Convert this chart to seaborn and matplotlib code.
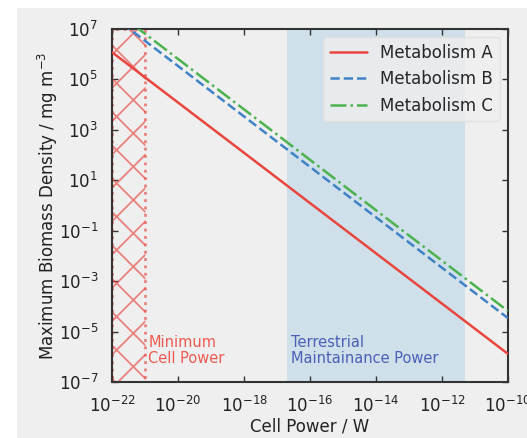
import numpy as np
import pandas as pd
import seaborn as sns
import matplotlib.pyplot as plt
from matplotlib.patches import Rectangle

# values (endpoints of each power law line)
cell_power = [1e-22, 1e-10]
metab_a = [1.2e6, 1.3e-6]
metab_b = [3.4e7, 3.4e-5]
metab_c = [6.5e7, 6.5e-5]
names = ["Metabolism A", "Metabolism B", "Metabolism C"]

min_power = [1e-22, 1e-21]
terr_power = [2e-17, 5e-12]

df = pd.DataFrame({
    "power": cell_power * 3,
    "density": metab_a + metab_b + metab_c,
    "metabolism": [n for n in names for _ in cell_power],
})

sns.set_theme(style="ticks")
plt.rcParams["font.family"] = ["DejaVu Sans"]
plt.rcParams["hatch.linewidth"] = 1.3

bg = "#efefef"
fig = plt.figure(figsize=(5.27, 4.38), dpi=100, facecolor="white")
fig.patches.append(Rectangle((17 / 527, 0), 1, 1 - 8 / 438, transform=fig.transFigure,
                             facecolor=bg, edgecolor="none", zorder=-10))
ax = fig.add_axes([112 / 527, 1 - 382 / 438, 396 / 527, 353 / 438])
ax.set_facecolor(bg)

red = "#e8463f"
blue = "#3f82c6"
green = "#4cb24e"

ax.axvspan(*terr_power, color="#cfe0ea", lw=0, zorder=0)
ax.axvspan(*min_power, fill=False, hatch="x", edgecolor=red, alpha=0.65,
           lw=2, ls=":", zorder=1)

sns.lineplot(data=df, x="power", y="density", hue="metabolism", style="metabolism",
             palette=[red, blue, green], dashes=[(None, None), (3.7, 1.6), (6.4, 1.6, 1, 1.6)],
             lw=1.8, ax=ax, zorder=3)

ax.set_xscale("log")
ax.set_yscale("log")
ax.set_xlim(1e-22, 1e-10)
ax.set_ylim(1e-7, 1e7)
ax.set_xticks([1e-22, 1e-20, 1e-18, 1e-16, 1e-14, 1e-12, 1e-10])
ax.set_yticks([1e-7, 1e-5, 1e-3, 1e-1, 1e1, 1e3, 1e5, 1e7])
ax.minorticks_off()
ax.tick_params(direction="in", top=True, right=True, labelsize=12, length=4,
               width=1, color="#333333", labelcolor="#222222", pad=10)
for s in ax.spines.values():
    s.set_color("#333333")
    s.set_linewidth(1.5)

ax.set_xlabel("Cell Power / W", fontsize=12, color="#222222", labelpad=1)
ax.set_ylabel("Maximum Biomass Density / mg m$^{-3}$", fontsize=12, color="#222222",
              labelpad=-1)

ax.text(1.25e-21, 10**-6.35, "Minimum\nCell Power", color="#ee5a52", fontsize=10.5,
        va="bottom", ha="left", linespacing=1.05)
ax.text(2.6e-17, 10**-6.35, "Terrestrial\nMaintainance Power", color="#4a5fb8",
        fontsize=10.5, va="bottom", ha="left", linespacing=1.05)

ax.legend(title=None, loc="upper right", fontsize=12, frameon=True,
          facecolor=bg, edgecolor="#dddddd", handlelength=2.2)

fig.savefig("out.png", dpi=100, facecolor="white")
